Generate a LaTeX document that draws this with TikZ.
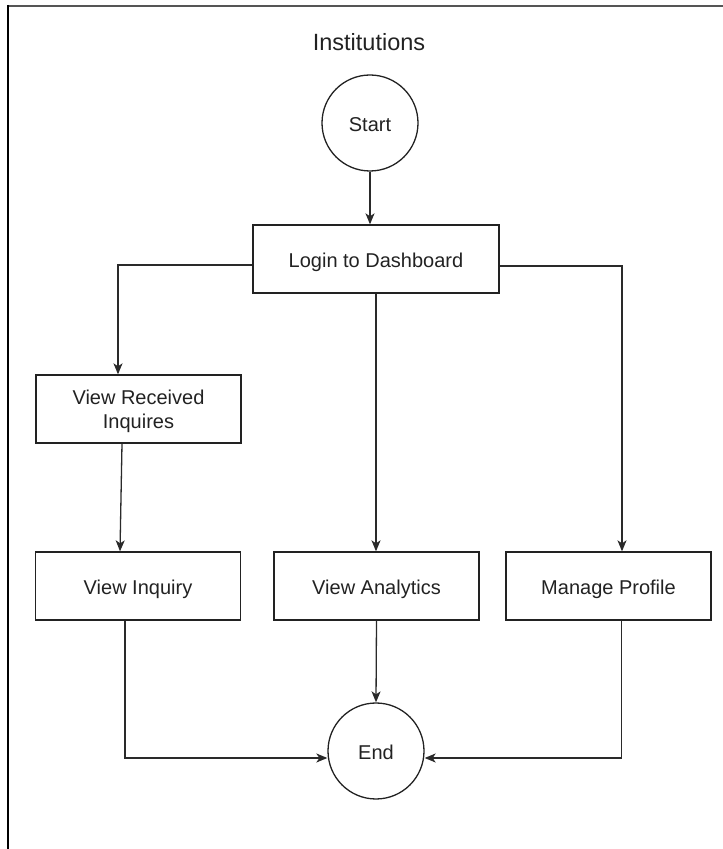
\documentclass[tikz,border=0pt]{standalone}
\usepackage{fontspec}
\setmainfont{Liberation Sans}
\usetikzlibrary{arrows.meta}

\definecolor{ink}{HTML}{222222}
\definecolor{wire}{HTML}{2A2A2A}

\tikzset{
  x=1pt, y=1pt,
  labeltext/.style={text=ink, font=\fontsize{20}{24}\selectfont,
    text height=22pt, text depth=4pt},
  box/.style={draw=ink, line width=1.3pt, rectangle, minimum width=205pt,
    minimum height=68pt, inner sep=0pt, labeltext},
  terminal/.style={draw=ink, line width=1.3pt, circle, minimum size=96pt,
    inner sep=0pt, labeltext},
  flow/.style={draw=wire, line width=1.3pt,
    -{Stealth[length=11pt,width=9pt,inset=3pt]}},
}

\begin{document}
\begin{tikzpicture}
\useasboundingbox (0,0) rectangle (723,849);

% partial page frame: top and left edges only
\draw[line width=2.5pt, draw={rgb,255:red,85;green,85;blue,85}] (7,843) -- (723,843);
\draw[line width=2pt, draw=black] (8,844) -- (8,0);

% heading
\node[text=ink, font=\fontsize{23.5}{28}\selectfont] (title) at (369,806.5) {Institutions};

% nodes
\node[terminal] (start) at (370,726) {Start};
\node[box, minimum width=246pt] (login) at (376,590) {Login to Dashboard};
\node[box, text height=20pt] (recv) at (138.5,440)
  {\begin{tabular}{@{}c@{}}View Received\\Inquires\end{tabular}};
\node[box] (inq) at (138,263) {View Inquiry};
\node[box] (ana) at (376.5,263) {View Analytics};
\node[box] (prof) at (608.5,263) {Manage Profile};
\node[terminal] (end) at (376,98) {End};

% connectors
\draw[flow] (start.south) -- (start.south |- login.north);
\draw[flow] ([yshift=-6pt]login.west) -| ([xshift=-20.5pt]recv.north);
\draw[flow] ([yshift=-7pt]login.east) -| ([xshift=13.5pt]prof.north);
\draw[flow] (login.south) -- (login.south |- ana.north);
\draw[flow] ([xshift=-16.5pt]recv.south) -- ([xshift=-18pt]inq.north);
\draw[flow] (ana.south) -- (end.north);
\draw[flow] ([xshift=-13pt]inq.south) |- ([yshift=-7pt]end.west);
\draw[flow] ([xshift=13pt]prof.south) |- ([yshift=-7pt]end.east);
\end{tikzpicture}
\end{document}
